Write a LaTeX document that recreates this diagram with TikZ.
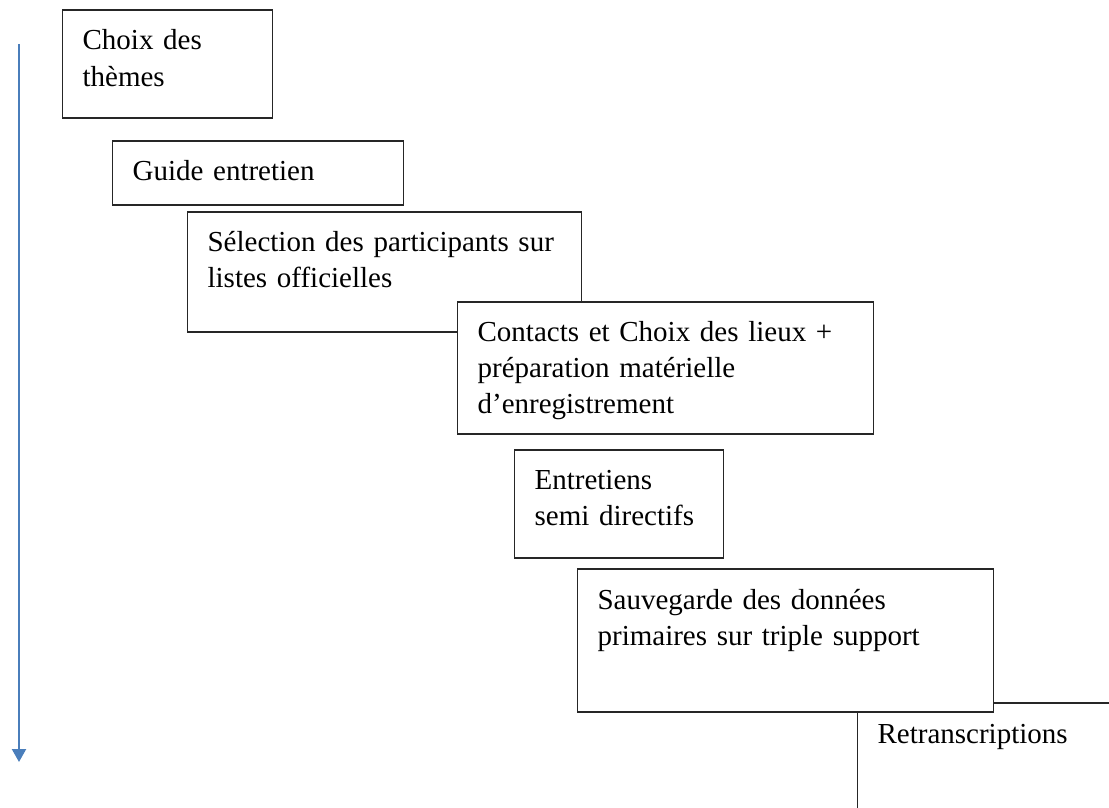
\documentclass[tikz,border=0pt]{standalone}
\usepackage{fontspec}
\setmainfont{Liberation Serif}
\usetikzlibrary{arrows.meta}
\definecolor{fleche}{RGB}{74,126,187}

\begin{document}
\begin{tikzpicture}[x=1pt,y=-1pt,
  etape/.style={draw=black!85,line width=1.2pt,fill=white,rectangle,
    anchor=base west,inner xsep=20pt,inner ysep=0pt,align=left,
    text height=39pt,font=\fontsize{29}{36}\selectfont}]
  \useasboundingbox (0,0) rectangle (1109,808);
  \clip (0,0) rectangle (1109,808);

  % time arrow
  \coordinate (debut) at (19,44);
  \coordinate (fin) at (19,762);
  \draw[fleche,line width=2.2pt,-{Triangle[width=14pt,length=13pt]}] (debut) -- (fin);

  % last step, cut by the page
  \node[etape,text width=300pt,text height=40pt,text depth=100pt] (retrans) at (857,743) {Retranscriptions};

  % steps
  \node[etape,text width=170pt,text height=40pt,text depth=68pt] (choix) at (62,50) {Choix des\\thèmes};
  \node[etape,text width=251pt,text depth=25pt] (guide) at (112,180) {Guide entretien};
  \node[etape,text width=354pt,text depth=81pt] (selection) at (187,251) {Sélection des participants sur\\listes officielles};
  \node[etape,text width=376pt,text depth=93pt] (contacts) at (457,341) {Contacts et Choix des lieux +\\préparation matérielle\\d’enregistrement};
  \node[etape,text width=169pt,text depth=69pt] (entretiens) at (514,489) {Entretiens\\semi directifs};
  \node[etape,text width=376pt,text height=40pt,text depth=103pt] (sauvegarde) at (577,609) {Sauvegarde des données\\primaires sur triple support};
\end{tikzpicture}
\end{document}
